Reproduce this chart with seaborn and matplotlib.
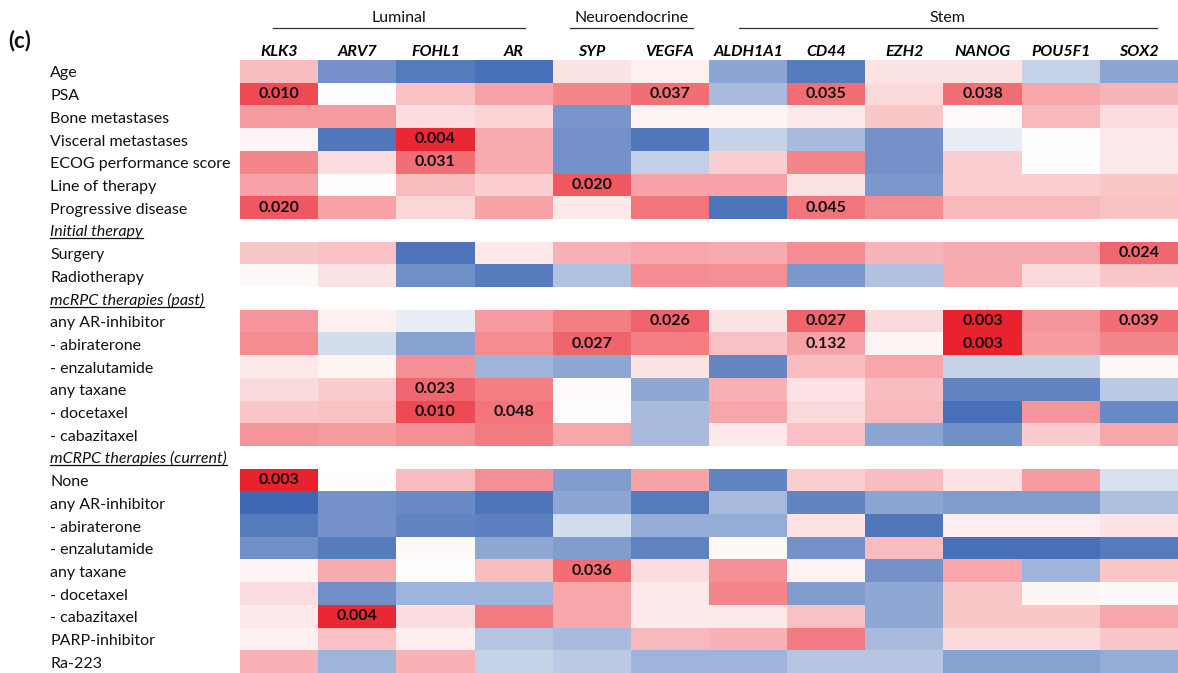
import numpy as np
import pandas as pd
import seaborn as sns
import matplotlib
matplotlib.use("Agg")
import matplotlib.pyplot as plt
from matplotlib.colors import LinearSegmentedColormap
from matplotlib.transforms import blended_transform_factory
from matplotlib.lines import Line2D

plt.rcParams["font.family"] = ["Lato", "DejaVu Sans"]

genes = ["KLK3", "ARV7", "FOHL1", "AR", "SYP", "VEGFA",
         "ALDH1A1", "CD44", "EZH2", "NANOG", "POU5F1", "SOX2"]
# group name, first column, last column (exclusive)
groups = [("Luminal", 0, 4), ("Neuroendocrine", 4, 6), ("Stem", 6, 12)]
# horizontal extent of the rule under each group name, in column units
group_rules = [(0.42, 3.65), (4.22, 5.80), (6.38, 11.73)]

# Association scores (negative = blue, positive = red), one block per section
clinical_labels = ["Age", "PSA", "Bone metastases", "Visceral metastases",
                   "ECOG performance score", "Line of therapy", "Progressive disease"]
clinical = [
    [0.30, -0.72, -0.88, -0.95, 0.12, 0.07, -0.60, -0.88, 0.12, 0.12, -0.30, -0.60],
    [0.82, 0.00, 0.28, 0.42, 0.55, 0.65, -0.45, 0.65, 0.17, 0.65, 0.40, 0.33],
    [0.45, 0.45, 0.15, 0.20, -0.70, 0.05, 0.05, 0.10, 0.25, 0.02, 0.32, 0.15],
    [0.04, -0.90, 0.97, 0.38, -0.72, -0.90, -0.30, -0.45, -0.72, -0.12, 0.01, 0.10],
    [0.55, 0.15, 0.65, 0.38, -0.72, -0.32, 0.22, 0.55, -0.72, 0.22, 0.01, 0.10],
    [0.42, 0.00, 0.30, 0.22, 0.75, 0.42, 0.42, 0.12, -0.68, 0.22, 0.22, 0.25],
    [0.75, 0.42, 0.18, 0.42, 0.10, 0.62, -0.92, 0.62, 0.52, 0.32, 0.32, 0.27],
]

initial_title = "Initial therapy"
initial_labels = ["Surgery", "Radiotherapy"]
initial = [
    [0.25, 0.28, -0.92, 0.10, 0.35, 0.40, 0.38, 0.52, 0.33, 0.38, 0.38, 0.68],
    [0.03, 0.12, -0.75, -0.87, -0.40, 0.52, 0.50, -0.68, -0.40, 0.38, 0.17, 0.25],
]

past_title = "mcRPC therapies (past)"
past_labels = ["any AR-inhibitor", "- abiraterone", "- enzalutamide",
               "any taxane", "- docetaxel", "- cabazitaxel"]
past = [
    [0.48, 0.07, -0.12, 0.45, 0.58, 0.70, 0.12, 0.70, 0.17, 1.00, 0.48, 0.65],
    [0.52, -0.22, -0.62, 0.52, 0.70, 0.58, 0.28, 0.42, 0.05, 1.00, 0.45, 0.55],
    [0.10, 0.05, 0.50, -0.50, -0.58, 0.12, -0.80, 0.30, 0.40, -0.30, -0.30, 0.03],
    [0.17, 0.23, 0.68, 0.58, 0.02, -0.58, 0.35, 0.13, 0.30, -0.82, -0.82, -0.35],
    [0.25, 0.27, 0.82, 0.62, 0.01, -0.45, 0.40, 0.17, 0.32, -0.95, 0.48, -0.78],
    [0.48, 0.45, 0.50, 0.60, 0.40, -0.45, 0.10, 0.28, -0.60, -0.75, 0.23, 0.40],
]

current_title = "mCRPC therapies (current)"
current_labels = ["None", "any AR-inhibitor", "- abiraterone", "- enzalutamide",
                  "any taxane", "- docetaxel", "- cabazitaxel", "PARP-inhibitor", "Ra-223"]
current = [
    [1.00, 0.00, 0.30, 0.50, -0.65, 0.42, -0.82, 0.22, 0.30, 0.13, 0.45, -0.20],
    [-1.00, -0.72, -0.78, -0.92, -0.60, -0.88, -0.45, -0.82, -0.60, -0.66, -0.66, -0.42],
    [-0.88, -0.72, -0.82, -0.85, -0.22, -0.55, -0.55, 0.13, -0.90, 0.08, 0.08, 0.12],
    [-0.75, -0.87, 0.03, -0.58, -0.65, -0.83, 0.03, -0.72, 0.30, -0.95, -0.95, -0.88],
    [0.04, 0.38, 0.00, 0.30, 0.65, 0.15, 0.50, 0.06, -0.72, 0.40, -0.50, 0.25],
    [0.15, -0.75, -0.50, -0.50, 0.40, 0.10, 0.55, -0.65, -0.58, 0.25, 0.04, 0.03],
    [0.10, 0.97, 0.15, 0.60, 0.40, 0.10, 0.10, 0.28, -0.58, 0.25, 0.25, 0.40],
    [0.07, 0.28, 0.08, -0.38, -0.45, 0.32, 0.35, 0.60, -0.45, 0.17, 0.17, 0.25],
    [0.35, -0.50, 0.35, -0.30, -0.35, -0.50, -0.50, -0.38, -0.38, -0.62, -0.62, -0.55],
]

# Significant p-values: (section, row label, gene, p)
pvalues = [
    ("clinical", "PSA", "KLK3", "0.010"),
    ("clinical", "PSA", "VEGFA", "0.037"),
    ("clinical", "PSA", "CD44", "0.035"),
    ("clinical", "PSA", "NANOG", "0.038"),
    ("clinical", "Visceral metastases", "FOHL1", "0.004"),
    ("clinical", "ECOG performance score", "FOHL1", "0.031"),
    ("clinical", "Line of therapy", "SYP", "0.020"),
    ("clinical", "Progressive disease", "KLK3", "0.020"),
    ("clinical", "Progressive disease", "CD44", "0.045"),
    ("initial", "Surgery", "SOX2", "0.024"),
    ("past", "any AR-inhibitor", "VEGFA", "0.026"),
    ("past", "any AR-inhibitor", "CD44", "0.027"),
    ("past", "any AR-inhibitor", "NANOG", "0.003"),
    ("past", "any AR-inhibitor", "SOX2", "0.039"),
    ("past", "- abiraterone", "SYP", "0.027"),
    ("past", "- abiraterone", "CD44", "0.132"),
    ("past", "- abiraterone", "NANOG", "0.003"),
    ("past", "any taxane", "FOHL1", "0.023"),
    ("past", "- docetaxel", "FOHL1", "0.010"),
    ("past", "- docetaxel", "AR", "0.048"),
    ("current", "None", "KLK3", "0.003"),
    ("current", "any taxane", "SYP", "0.036"),
    ("current", "- cabazitaxel", "ARV7", "0.004"),
]

# ---- assemble the table (section titles become blank rows) ----
sections = [
    ("clinical", None, clinical_labels, clinical),
    ("initial", initial_title, initial_labels, initial),
    ("past", past_title, past_labels, past),
    ("current", current_title, current_labels, current),
]
rows, labels, is_title, keys = [], [], [], []
for key, title, labs, vals in sections:
    if title is not None:
        rows.append([np.nan] * len(genes))
        labels.append(title)
        is_title.append(True)
        keys.append((key, None))
    for lab, v in zip(labs, vals):
        rows.append(v)
        labels.append(lab)
        is_title.append(False)
        keys.append((key, lab))

data = pd.DataFrame(rows, columns=genes)
annot = np.full(data.shape, "", dtype=object)
for sec, lab, gene, p in pvalues:
    annot[keys.index((sec, lab)), genes.index(gene)] = p

cmap = LinearSegmentedColormap.from_list("bwr_excel", ["#3F69B4", "#FFFFFF", "#EA222D"])

W, H = 1178, 673
fig = plt.figure(figsize=(W / 100, H / 100), dpi=100)
fig.patch.set_facecolor("white")
ax = fig.add_axes([240 / W, 0, 938 / W, 613 / H])
ax.set_facecolor("white")

sns.heatmap(data, ax=ax, cmap=cmap, vmin=-1, vmax=1, cbar=False,
            annot=annot, fmt="", linewidths=0,
            annot_kws=dict(fontsize=11.5, fontweight="bold", color="#111111"),
            xticklabels=genes, yticklabels=False)

for s in ax.spines.values():
    s.set_visible(False)
ax.xaxis.tick_top()
ax.tick_params(axis="x", length=0, pad=1)
for t in ax.get_xticklabels():
    t.set_fontstyle("italic")
    t.set_fontweight("bold")
    t.set_fontsize(11.5)
    t.set_rotation(0)
ax.tick_params(axis="y", length=0)

# row labels at the left margin
trans = blended_transform_factory(fig.transFigure, ax.transData)
title_texts = []
for i, (lab, tflag) in enumerate(zip(labels, is_title)):
    txt = ax.text(50 / W, i + 0.77, lab, transform=trans, ha="left", va="baseline",
                  fontsize=11.5, fontstyle="italic" if tflag else "normal",
                  color="#111111", clip_on=False)
    if tflag:
        title_texts.append(txt)

# group headers with rules beneath
xtrans = blended_transform_factory(ax.transData, fig.transFigure)
for (name, c0, c1), (x0, x1) in zip(groups, group_rules):
    ax.text((x0 + x1) / 2, 1 - 22.5 / H, name, transform=xtrans,
            ha="center", va="baseline", fontsize=11.5, color="#111111", clip_on=False)
    fig.add_artist(Line2D([x0, x1], [1 - 28 / H] * 2, transform=xtrans,
                          color="#333333", linewidth=0.9))

fig.text(8 / W, 1 - 41 / H, "(c)", ha="left", va="center",
         fontsize=16, fontweight="bold", color="#111111")

# underline the section titles
fig.canvas.draw()
renderer = fig.canvas.get_renderer()
for txt in title_texts:
    bb = txt.get_window_extent(renderer)
    y = (bb.y0 + 1) / H
    fig.add_artist(Line2D([bb.x0 / W, bb.x1 / W], [y, y], transform=fig.transFigure,
                          color="#111111", linewidth=0.9))

fig.savefig("out.png", dpi=100, facecolor="white")
